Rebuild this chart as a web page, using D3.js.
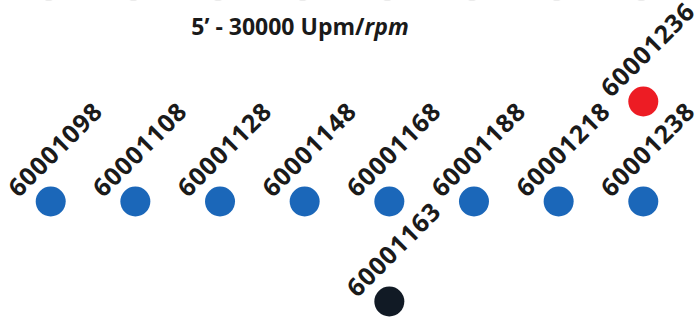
<!DOCTYPE html>
<html>
<head>
<meta charset="utf-8">
<script src="https://cdn.jsdelivr.net/npm/d3@7"></script>
<style>
  body { margin: 0; background: #fff; }
  svg { display: block; font-family: "Open Sans", "Noto Sans", sans-serif; }
</style>
</head>
<body>
<script>
(function () {

// columns of the grid, left to right
var columns = ["60001098", "60001108", "60001128", "60001148", "60001168", "60001188", "60001218", "60001238"]

// main row: one blue dot per column
var mainRow = columns.map(function(c, i) { return { label: c, col: i, row: 0, kind: "blue" } })

// extra dots above / below the main row
var extras = [
  { label: "60001236", col: 7, row: -1, kind: "red" },
  { label: "60001163", col: 4, row: 1, kind: "black" }
]

// cut-off row at the very top of the picture (only the bottoms show)
var ghostRow = columns.map(function(c, i) { return { col: i, row: -2.16 } })

var title = "5\u2019 - 30000 Upm/"
var titleItalic = "rpm"

var width = 697,
height = 323

var svg = d3.select("body")
.append("svg")
.attr("width", width)
.attr("height", height)

var x = d3.scaleLinear().domain([0, columns.length - 1]).range([50.7, 643.3])
var y = d3.scaleLinear().domain([-1, 1]).range([101.5, 301.5])
var color = d3.scaleOrdinal().domain(["blue", "red", "black"]).range(["#1b67b9", "#ed1c24", "#111a25"])

var radius = 15

svg.selectAll("circle.ghost")
.data(ghostRow)
.enter().append("circle")
.attr("class", "ghost")
.attr("cx", function(d) { return x(d.col) - 2 })
.attr("cy", function(d) { return y(d.row) })
.attr("r", radius)
.attr("fill", "#d8d8d8")

var t = svg.append("text")
.attr("x", 300)
.attr("y", 35)
.attr("text-anchor", "middle")
.attr("font-size", 23)
.attr("font-weight", "bold")
.attr("fill", "#1a1a1a")
t.append("tspan").text(title)
t.append("tspan").attr("font-style", "italic").text(titleItalic)

var dots = mainRow.concat(extras)

var groups = svg.selectAll("g.dot")
.data(dots)
.enter().append("g")
.attr("class", "dot")
.attr("transform", function(d) { return "translate(" + x(d.col) + " " + y(d.row) + ")" })

groups.append("circle")
.attr("r", radius)
.attr("fill", function(d) { return color(d.kind) })

groups.append("text")
.text(function(d) { return d.label })
.attr("transform", "translate(-32 -3) rotate(-45)")
.attr("font-size", 25)
.attr("letter-spacing", 0.8)
.attr("font-weight", "bold")
.attr("fill", "#1a1a1a")

}())
</script>
</body>
</html>
